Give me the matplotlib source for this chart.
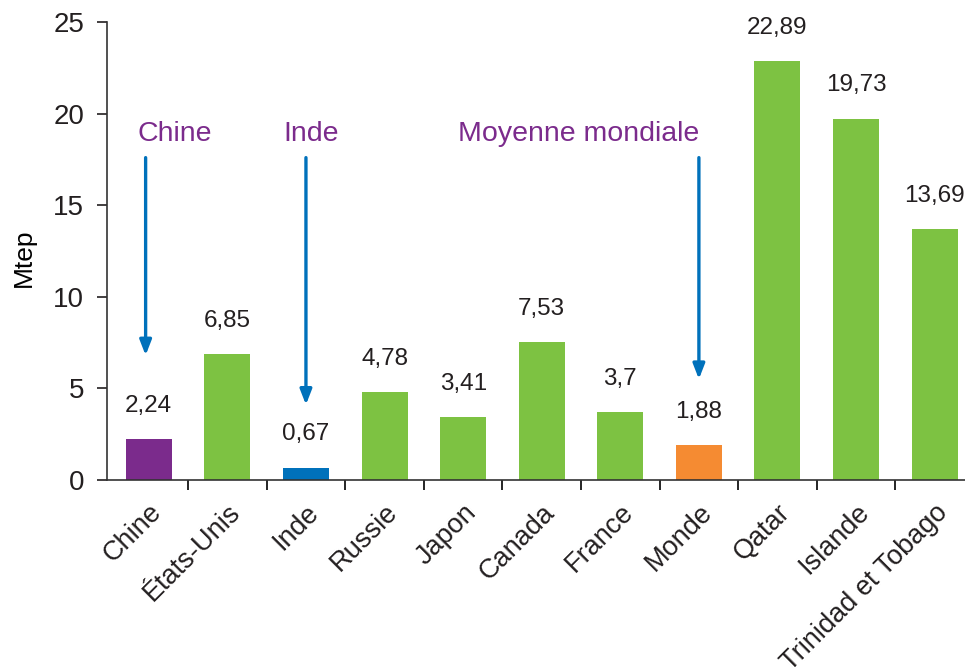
import numpy as np
import matplotlib
matplotlib.use('Agg')
import matplotlib.pyplot as plt
from matplotlib.ticker import FixedLocator

plt.rcParams['font.family'] = ['Liberation Sans', 'DejaVu Sans']

# données
pays = ['Chine', 'États-Unis', 'Inde', 'Russie', 'Japon', 'Canada',
        'France', 'Monde', 'Qatar', 'Islande', 'Trinidad et Tobago']
valeurs = [2.24, 6.85, 0.67, 4.78, 3.41, 7.53, 3.7, 1.88, 22.89, 19.73, 13.69]
etiquettes = ['2,24', '6,85', '0,67', '4,78', '3,41', '7,53', '3,7', '1,88',
              '22,89', '19,73', '13,69']

# annotations : texte, pays visé, début et fin de la flèche
notes = ['Chine', 'Inde', 'Moyenne mondiale']
notes_pays = ['Chine', 'Inde', 'Monde']
fleche_haut = [17.6, 17.6, 17.6]
fleche_bas = [6.8, 4.1, 5.5]

violet = '#7B2B8C'
vert = '#7DC242'
bleu = '#0071BB'
orange = '#F58B32'
couleurs = [violet, vert, bleu, vert, vert, vert, vert, orange, vert, vert, vert]

fig = plt.figure(figsize=(9.65, 6.72), dpi=100)
ax = fig.add_axes([0.111, 0.286, 0.889, 0.681])

x = np.arange(len(pays))
ax.bar(x, valeurs, width=0.585, color=couleurs)

for xi, v, lab in zip(x, valeurs, etiquettes):
    ax.annotate(lab, (xi, v), xytext=(0, 16), textcoords='offset points',
                ha='center', va='bottom', fontsize=17.5, color='#231F20')

# flèches bleues et textes violets
pos_texte = {'Chine': -0.14, 'Inde': 1.71, 'Moyenne mondiale': 3.94}
decal = {'Chine': -0.04, 'Inde': 0.0, 'Monde': 0.0}
for note, p, h, b in zip(notes, notes_pays, fleche_haut, fleche_bas):
    i = pays.index(p)
    xa = i + decal[p]
    ax.annotate('', xy=(xa, b), xytext=(xa, h),
                arrowprops=dict(arrowstyle='-|>,head_length=0.9,head_width=0.35',
                                color=bleu, lw=2.4, shrinkA=0, shrinkB=0))
    ax.text(pos_texte[note], 18.2, note, color=violet, fontsize=20.5,
            ha='left', va='bottom')

ax.set_xlim(-0.53, 10.386)
ax.set_ylim(0, 25)
ax.set_yticks([0, 5, 10, 15, 20, 25])
ax.tick_params(axis='y', labelsize=20, length=7.5, width=1.2, pad=9,
               colors='#231F20')
ax.set_ylabel('Mtep', fontsize=19)
ax.yaxis.set_label_coords(-0.083, 0.485)

ax.set_xticks(x)
ax.set_xticklabels(pays, rotation=45, ha='right', rotation_mode='anchor',
                   fontsize=19.5, color='#231F20')
ax.tick_params(axis='x', which='major', length=0, pad=14)
ax.xaxis.set_minor_locator(FixedLocator(x[:-1] + 0.5))
ax.tick_params(axis='x', which='minor', length=7.5, width=1.2)

for s in ['top', 'right']:
    ax.spines[s].set_visible(False)
for s in ['left', 'bottom']:
    ax.spines[s].set_linewidth(1.2)
    ax.spines[s].set_color('#333333')

fig.savefig('out.png', dpi=100)
